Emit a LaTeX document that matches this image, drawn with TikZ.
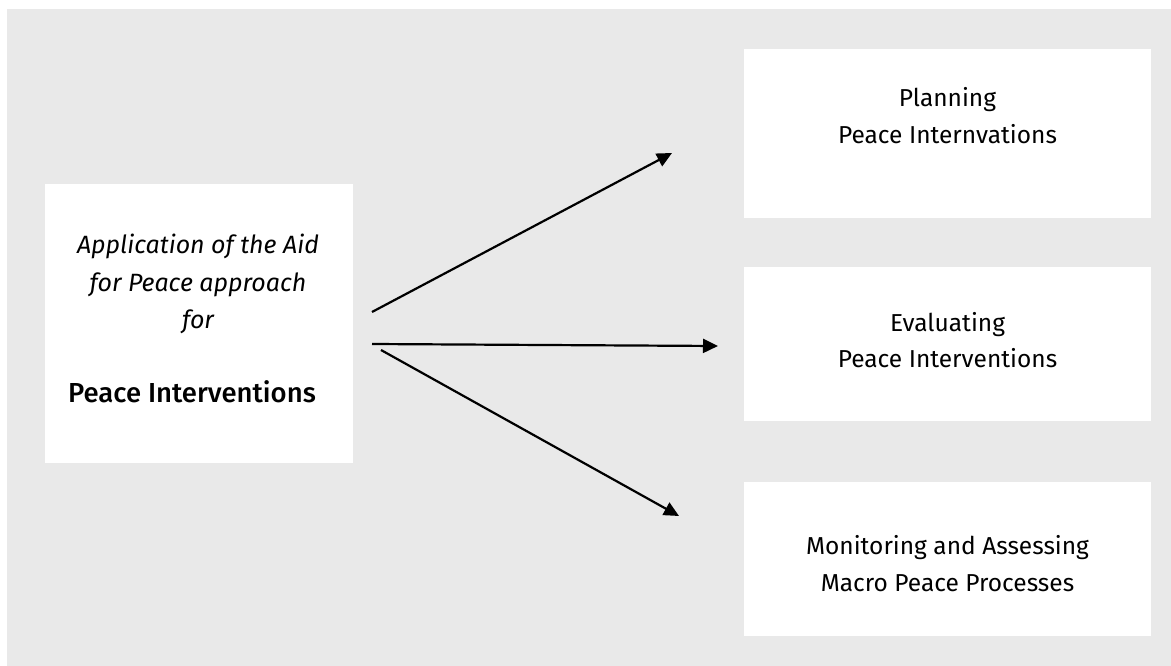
\documentclass[tikz,border=0pt]{standalone}
\usepackage{fontspec}
\setmainfont{Fira Sans}[BoldFont={Fira Sans Medium}]
\usetikzlibrary{arrows.meta}
\definecolor{bggrey}{HTML}{E9E9E9}
\tikzset{
  box/.style={draw=none,fill=white,inner sep=0pt},
  conn/.style={line width=2.2pt,-{Triangle[length=15pt,width=14pt]}},
  rtxt/.style={anchor=base,inner sep=0pt,font=\fontsize{24.5}{37}\selectfont},
  ltxt/.style={anchor=base,inner sep=0pt,font=\fontsize{25}{37}\selectfont\itshape},
  btxt/.style={anchor=base,inner sep=0pt,font=\fontsize{27.5}{37}\selectfont\bfseries}
}
\begin{document}
\begin{tikzpicture}[x=1pt,y=-1pt]
\useasboundingbox (0,0) rectangle (1171,666);
\fill[white] (0,0) rectangle (1171,666);
\fill[bggrey] (7,9) rectangle (1171,666);
% boxes
\node[box,minimum width=308pt,minimum height=279pt] (L) at (199,323.5) {};
\node[box,minimum width=407pt,minimum height=169pt] (R1) at (947.5,133.5) {};
\node[box,minimum width=407pt,minimum height=154pt] (R2) at (947.5,344) {};
\node[box,minimum width=407pt,minimum height=154pt] (R3) at (947.5,559) {};
% texts
\node[ltxt] (l1) at (198,253) {Application of the Aid};
\node[ltxt] (l2) at (198,291) {for Peace approach};
\node[ltxt] (l3) at (198,328) {for};
\node[btxt] (l4) at (192,402.5) {Peace Interventions};
\node[rtxt] (r1a) at (947.5,106.5) {Planning};
\node[rtxt] (r1b) at (947.5,143.3) {Peace Internvations};
\node[rtxt] (r2a) at (947.5,331) {Evaluating};
\node[rtxt] (r2b) at (947.5,367.5) {Peace Interventions};
\node[rtxt] (r3a) at (947.5,554) {Monitoring and Assessing};
\node[rtxt] (r3b) at (947.5,591) {Macro Peace Processes};
% connectors
\coordinate (s1) at (372,312);
\coordinate (e1) at (672,153);
\coordinate (s2) at (372,344);
\coordinate (e2) at (718,346);
\coordinate (s3) at (381,350);
\coordinate (e3) at (679,516);
\draw[conn] (s1) -- (e1);
\draw[conn] (s2) -- (e2);
\draw[conn] (s3) -- (e3);
\end{tikzpicture}
\end{document}
